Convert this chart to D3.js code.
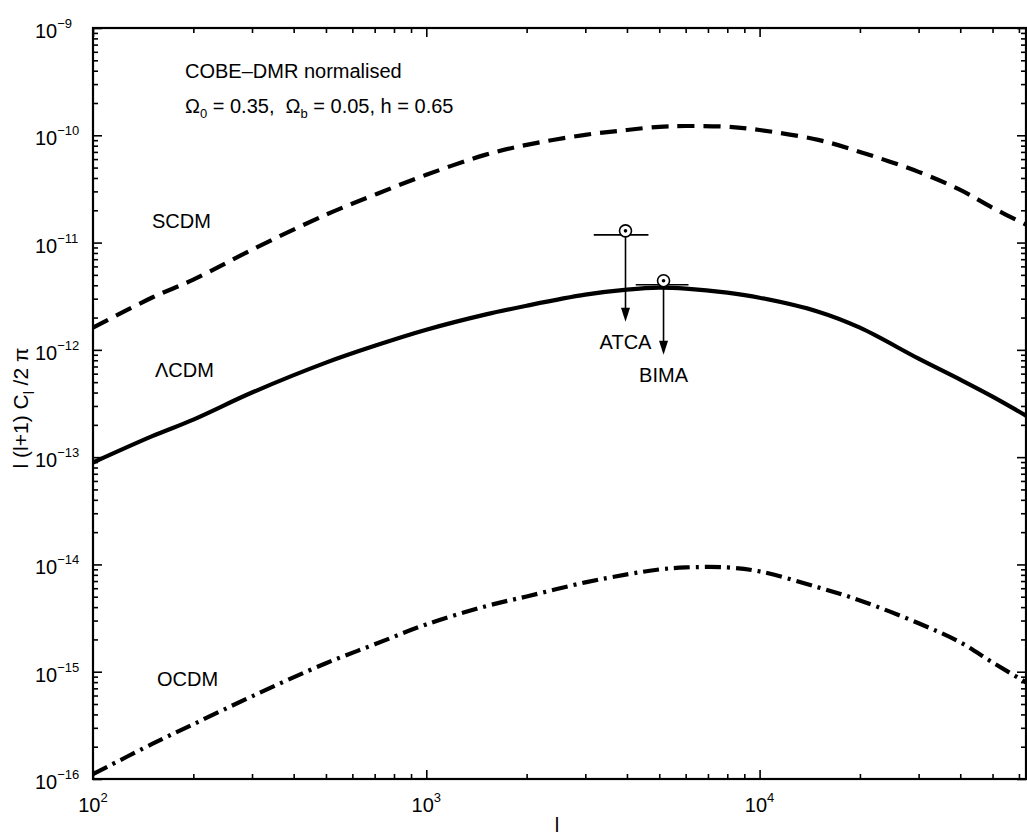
<!DOCTYPE html>
<html>
<head>
<meta charset="utf-8">
<script src="https://cdn.jsdelivr.net/npm/d3@7"></script>
<style>
  body { margin: 0; background: #fff; }
  text { font-family: "Liberation Sans", Arial, Helvetica, sans-serif; fill: #000; white-space: pre; }
</style>
</head>
<body>
<svg id="chart" width="1027" height="836"></svg>
<script>
// Multipole grid shared by the three model spectra
const multipoles = [100, 150, 200, 300, 500, 700, 1000, 1500, 2000, 3000, 4000, 5000,
                    6000, 8000, 10000, 15000, 20000, 30000, 40000, 50000, 63000];

// l(l+1)C_l/2pi for each cosmology
const scdm = [1.61e-12, 3.06e-12, 4.51e-12, 8.58e-12, 1.82e-11, 2.79e-11, 4.28e-11, 6.57e-11,
              8.14e-11, 1.01e-10, 1.12e-10, 1.20e-10, 1.22e-10, 1.20e-10, 1.12e-10, 9.06e-11,
              7.0e-11, 4.56e-11, 3.10e-11, 2.11e-11, 1.47e-11];
const lcdm = [8.91e-14, 1.56e-13, 2.24e-13, 4.0e-13, 7.6e-13, 1.09e-12, 1.54e-12, 2.13e-12,
              2.58e-12, 3.27e-12, 3.64e-12, 3.80e-12, 3.72e-12, 3.41e-12, 3.06e-12, 2.27e-12,
              1.61e-12, 8.28e-13, 5.28e-13, 3.67e-13, 2.44e-13];
const ocdm = [1.11e-16, 2.11e-16, 3.24e-16, 5.90e-16, 1.20e-15, 1.80e-15, 2.76e-15, 4.06e-15,
              5.03e-15, 6.80e-15, 8.07e-15, 8.98e-15, 9.38e-15, 9.38e-15, 8.61e-15, 6.11e-15,
              4.62e-15, 2.83e-15, 1.88e-15, 1.22e-15, 7.96e-16];

// Axis extent and labelled decades
const lRange = [100, 63000];
const powerRange = [1e-16, 1e-9];
const xDecades = [2, 3, 4];
const yDecades = [-16, -15, -14, -13, -12, -11, -10, -9];

// Upper limits from interferometers: centre, band, level, arrow end
const limitNames = ["ATCA", "BIMA"];
const limitL = [3960, 5150];
const limitBand = [[3180, 4640], [4250, 6120]];
const limitValue = [1.18e-11, 4.05e-12];
const limitArrowEnd = [1.83e-12, 9.0e-13];

const svg = d3.select("#chart");
const x = d3.scaleLog().domain(lRange).range([93, 1026]);
const y = d3.scaleLog().domain(powerRange).range([779, 28]);

// minor / major ticks per decade
function tickSets(lo, hi) {
  const major = [], minor = [];
  for (let p = Math.floor(Math.log10(lo)); p <= Math.ceil(Math.log10(hi)); p++) {
    for (let k = 1; k <= 9; k++) {
      const v = k * Math.pow(10, p);
      if (v < lo * 0.999 || v > hi * 1.001) continue;
      (k === 1 ? major : minor).push(v);
    }
  }
  return { major, minor };
}
const xt = tickSets(lRange[0], lRange[1]);
const yt = tickSets(powerRange[0], powerRange[1]);

const frame = svg.append("g");
function addAxis(axisFn, scale, values, size, transform) {
  const g = frame.append("g").attr("transform", transform)
    .call(axisFn(scale).tickValues(values).tickSizeInner(-size).tickSizeOuter(0).tickFormat(""));
  g.select(".domain").remove();
  g.selectAll(".tick line").attr("stroke", "#000").attr("stroke-width", 1.6);
}
const [X0, X1] = x.range(), [Y0, Y1] = y.range();
addAxis(d3.axisBottom, x, xt.major, 9, `translate(0,${Y0})`);
addAxis(d3.axisBottom, x, xt.minor, 5, `translate(0,${Y0})`);
addAxis(d3.axisTop, x, xt.major, 9, `translate(0,${Y1})`);
addAxis(d3.axisTop, x, xt.minor, 5, `translate(0,${Y1})`);
addAxis(d3.axisLeft, y, yt.major, 9, `translate(${X0},0)`);
addAxis(d3.axisLeft, y, yt.minor, 5, `translate(${X0},0)`);
addAxis(d3.axisRight, y, yt.major, 9, `translate(${X1},0)`);
addAxis(d3.axisRight, y, yt.minor, 5, `translate(${X1},0)`);

frame.append("rect")
  .attr("x", X0).attr("y", Y1).attr("width", X1 - X0).attr("height", Y0 - Y1)
  .attr("fill", "none").attr("stroke", "#000").attr("stroke-width", 2.2);

// power-of-ten tick labels
const labels = svg.append("g").attr("font-size", 20);
xDecades.forEach(p => {
  const t = labels.append("text").attr("x", x(Math.pow(10, p))).attr("y", Y0 + 33)
    .attr("text-anchor", "middle");
  t.append("tspan").text("10");
  t.append("tspan").attr("dy", -10).attr("font-size", 13).text(p);
});
yDecades.forEach(p => {
  const t = labels.append("text").attr("x", 35).attr("y", y(Math.pow(10, p)) + 10);
  t.append("tspan").text("10");
  t.append("tspan").attr("dy", -10).attr("font-size", 13).text("\u2212" + Math.abs(p));
});

// axis titles
labels.append("text").attr("x", 557).attr("y", 832).attr("text-anchor", "middle").text("l");
const yTitle = labels.append("text").attr("font-size", 21)
  .attr("transform", "translate(28,408) rotate(-90)").attr("text-anchor", "middle");
yTitle.append("tspan").text("l (l+1) C");
yTitle.append("tspan").attr("dy", 6).attr("font-size", 14).text("l");
yTitle.append("tspan").attr("dy", -6).text(" /2 \u03c0");

// model spectra
const line = d3.line().x(d => x(d[0])).y(d => y(d[1])).curve(d3.curveCatmullRom.alpha(0.5));
const curves = [
  { values: scdm, dash: "17,9" },
  { values: lcdm, dash: null },
  { values: ocdm, dash: "16,6,3,6" }
];
const plot = svg.append("g");
curves.forEach(c => {
  plot.append("path")
    .datum(multipoles.map((l, i) => [l, c.values[i]]))
    .attr("d", line)
    .attr("fill", "none").attr("stroke", "#000").attr("stroke-width", 4.2)
    .attr("stroke-dasharray", c.dash);
});

// upper-limit markers
limitNames.forEach((name, i) => {
  const cx = x(limitL[i]), cy = y(limitValue[i]);
  const ay = y(limitArrowEnd[i]);
  plot.append("line").attr("x1", x(limitBand[i][0])).attr("x2", x(limitBand[i][1]))
    .attr("y1", cy).attr("y2", cy).attr("stroke", "#000").attr("stroke-width", 1.6);
  plot.append("line").attr("x1", cx).attr("x2", cx).attr("y1", cy).attr("y2", ay - 12)
    .attr("stroke", "#000").attr("stroke-width", 1.6);
  plot.append("path").attr("d", `M${cx - 4.5},${ay - 14} L${cx + 4.5},${ay - 14} L${cx},${ay} Z`)
    .attr("fill", "#000");
  plot.append("circle").attr("cx", cx).attr("cy", cy - 4).attr("r", 6)
    .attr("fill", "#fff").attr("stroke", "#000").attr("stroke-width", 1.6);
  plot.append("circle").attr("cx", cx).attr("cy", cy - 4).attr("r", 1.8).attr("fill", "#000");
  labels.append("text").attr("x", cx).attr("y", ay + 27).attr("text-anchor", "middle").text(name);
});

// model names and normalisation notes
labels.append("text").attr("x", 152).attr("y", 228).text("SCDM");
labels.append("text").attr("x", 155).attr("y", 377).text("\u039bCDM");
labels.append("text").attr("x", 157).attr("y", 686).text("OCDM");
labels.append("text").attr("x", 185).attr("y", 78).text("COBE\u2013DMR normalised");
const om = labels.append("text").attr("x", 185).attr("y", 113);
om.append("tspan").text("\u03a9");
om.append("tspan").attr("dy", 5).attr("font-size", 13).text("0");
om.append("tspan").attr("dy", -5).text(" = 0.35,  \u03a9");
om.append("tspan").attr("dy", 5).attr("font-size", 13).text("b");
om.append("tspan").attr("dy", -5).text(" = 0.05, h = 0.65");
</script>
</body>
</html>
